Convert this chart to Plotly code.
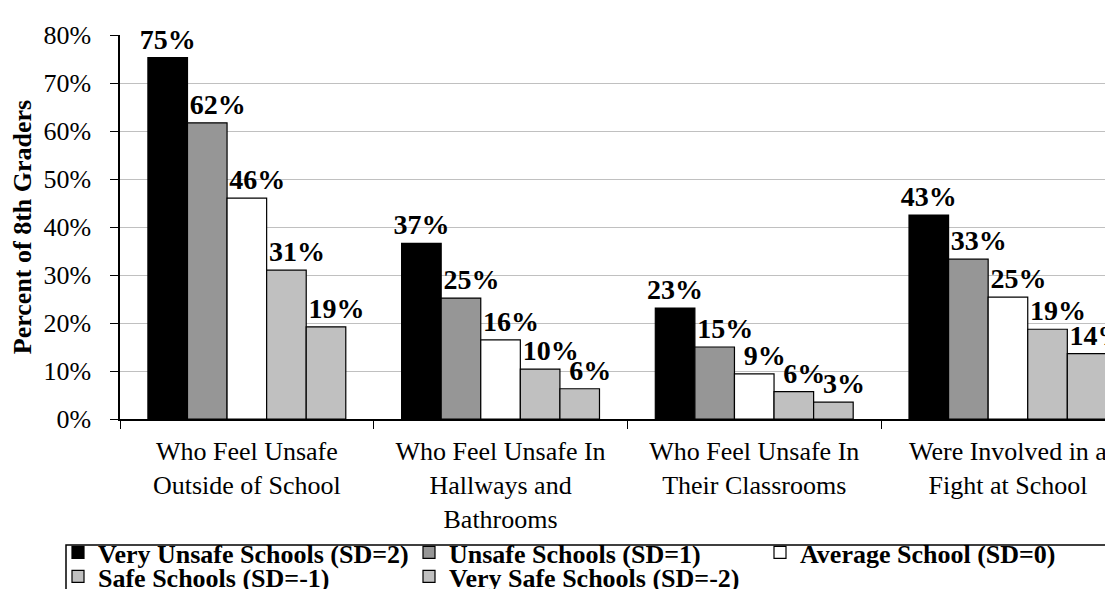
import plotly.graph_objects as go

categories = [
    "Who Feel Unsafe<br>Outside of School",
    "Who Feel Unsafe In<br>Hallways and<br>Bathrooms",
    "Who Feel Unsafe In<br>Their Classrooms",
    "Were Involved in a<br>Fight at School",
]
series_names = [
    "Very Unsafe Schools (SD=2)",
    "Unsafe Schools (SD=1)",
    "Average School (SD=0)",
    "Safe Schools (SD=-1)",
    "Very Safe Schools (SD=-2)",
]
very_unsafe = [75.3, 36.6, 23.1, 42.5]
unsafe = [61.7, 25.2, 15.0, 33.3]
average = [46.0, 16.5, 9.4, 25.4]
safe = [31.0, 10.4, 5.7, 18.7]
very_safe = [19.2, 6.3, 3.5, 13.6]
label_very_unsafe = ["75%", "37%", "23%", "43%"]
label_unsafe = ["62%", "25%", "15%", "33%"]
label_average = ["46%", "16%", "9%", "25%"]
label_safe = ["31%", "10%", "6%", "19%"]
label_very_safe = ["19%", "6%", "3%", "14%"]
y_ticks = [0, 10, 20, 30, 40, 50, 60, 70, 80]
y_tick_labels = ["0%", "10%", "20%", "30%", "40%", "50%", "60%", "70%", "80%"]

values = [very_unsafe, unsafe, average, safe, very_safe]
labels = [label_very_unsafe, label_unsafe, label_average, label_safe, label_very_safe]
colors = ["#000000", "#969696", "#ffffff", "#c0c0c0", "#c0c0c0"]
legend_ids = ["legend", "legend", "legend", "legend2", "legend2"]
label_pads = [0, 3, 3, 3, 3]  # non-breaking spaces nudging labels right, as in the reference

FONT = "Liberation Serif"
W, H = 1113, 589
ML, MR, MT, MB = 112, 0, 27, 178
PW = W - ML - MR
PH = H - MT - MB

def px_x(p):
    return (p - ML) / PW

def px_y(p):
    return (H - MB - p) / PH

fig = go.Figure()
for name, vals, txt, col, lg, pad in zip(series_names, values, labels, colors, legend_ids, label_pads):
    fig.add_trace(go.Bar(
        name=name, x=categories, y=vals,
        text=["\u00a0" * pad + t for t in txt],
        textposition="outside", cliponaxis=False, constraintext="none",
        textfont=dict(family=FONT, size=28, color="black", weight="bold"),
        marker=dict(color=col, line=dict(color="black", width=1.2)),
        legend=lg, hoverinfo="skip",
    ))

leg_common = dict(
    orientation="h", xanchor="left", yanchor="top",
    entrywidth=306, entrywidthmode="pixels",
    font=dict(family=FONT, size=26, color="black", weight="bold"),
    bgcolor="rgba(0,0,0,0)", borderwidth=0, itemclick=False,
)

fig.update_layout(
    width=W, height=H,
    margin=dict(l=ML, r=MR, t=MT, b=MB, autoexpand=False),
    paper_bgcolor="white", plot_bgcolor="white",
    barmode="group", bargap=0.22, bargroupgap=0,
    font=dict(family=FONT, size=26, color="black"),
    showlegend=True,
    legend=dict(x=px_x(50), y=px_y(521), **leg_common),
    legend2=dict(x=px_x(50), y=px_y(545), **leg_common),
    xaxis=dict(
        type="category", range=[-0.5, -0.5 + PW / 253.7],
        showline=True, linecolor="black", linewidth=1.5,
        ticks="outside", tickson="boundaries", ticklen=8, tickcolor="black",
        tickwidth=1.2, showgrid=False, ticklabelstandoff=8,
        tickfont=dict(family=FONT, size=26, color="black"),
    ),
    yaxis=dict(
        range=[0, 80], tickvals=y_ticks, ticktext=y_tick_labels,
        showline=True, linecolor="black", linewidth=1.5,
        ticks="outside", ticklen=8, tickcolor="black", tickwidth=1.2,
        showgrid=True, gridcolor="#c0c0c0", gridwidth=1.2, zeroline=False,
        ticklabelstandoff=14,
        tickfont=dict(family=FONT, size=26, color="black"),
        title=dict(text="<b>Percent of 8th Graders</b>", standoff=8,
                   font=dict(family=FONT, size=26, color="black")),
        automargin=False,
    ),
    shapes=[dict(
        type="rect", xref="paper", yref="paper",
        x0=px_x(58), x1=px_x(1125), y0=px_y(537), y1=px_y(610),
        line=dict(color="black", width=1.5), fillcolor="rgba(0,0,0,0)",
        layer="above",
    )],
)

fig.write_html("out.html")
